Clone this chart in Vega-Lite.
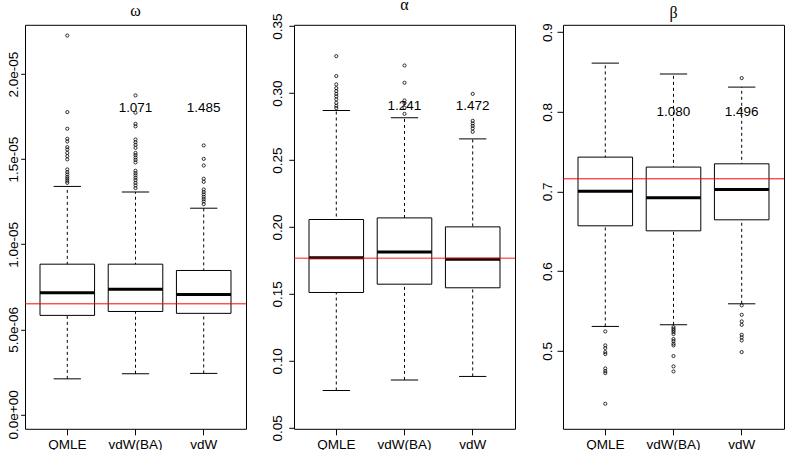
{
  "$schema": "https://vega.github.io/schema/vega-lite/v6.json",
  "background": "white",
  "padding": {"left": 5, "top": -4.2, "right": 0, "bottom": 0},
  "bounds": "flush",
  "spacing": 48,
  "datasets": {
    "boxes": [
      {"param": "omega", "method": "QMLE", "lower": 2.09e-6, "q1": 5.82e-6, "median": 7.15e-6, "q3": 8.83e-6, "upper": 13.40e-6},
      {"param": "omega", "method": "vdW(BA)", "lower": 2.39e-6, "q1": 6.05e-6, "median": 7.35e-6, "q3": 8.83e-6, "upper": 13.07e-6},
      {"param": "omega", "method": "vdW", "lower": 2.41e-6, "q1": 5.94e-6, "median": 7.05e-6, "q3": 8.46e-6, "upper": 12.12e-6},
      {"param": "alpha", "method": "QMLE", "lower": 0.0779, "q1": 0.1511, "median": 0.1770, "q3": 0.2056, "upper": 0.2870},
      {"param": "alpha", "method": "vdW(BA)", "lower": 0.0858, "q1": 0.1573, "median": 0.1814, "q3": 0.2068, "upper": 0.2815},
      {"param": "alpha", "method": "vdW", "lower": 0.0884, "q1": 0.1546, "median": 0.1760, "q3": 0.2001, "upper": 0.2658},
      {"param": "beta", "method": "QMLE", "lower": 0.5306, "q1": 0.6569, "median": 0.7004, "q3": 0.7431, "upper": 0.8611},
      {"param": "beta", "method": "vdW(BA)", "lower": 0.5326, "q1": 0.6506, "median": 0.6920, "q3": 0.7306, "upper": 0.8473},
      {"param": "beta", "method": "vdW", "lower": 0.5590, "q1": 0.6644, "median": 0.7026, "q3": 0.7347, "upper": 0.8310}
    ],
    "outliers": [
      {"param": "omega", "method": "QMLE", "value": 22.27e-6},
      {"param": "omega", "method": "QMLE", "value": 17.77e-6},
      {"param": "omega", "method": "QMLE", "value": 16.79e-6},
      {"param": "omega", "method": "QMLE", "value": 16.20e-6},
      {"param": "omega", "method": "QMLE", "value": 16.04e-6},
      {"param": "omega", "method": "QMLE", "value": 15.71e-6},
      {"param": "omega", "method": "QMLE", "value": 15.57e-6},
      {"param": "omega", "method": "QMLE", "value": 15.37e-6},
      {"param": "omega", "method": "QMLE", "value": 15.18e-6},
      {"param": "omega", "method": "QMLE", "value": 14.99e-6},
      {"param": "omega", "method": "QMLE", "value": 14.40e-6},
      {"param": "omega", "method": "QMLE", "value": 14.24e-6},
      {"param": "omega", "method": "QMLE", "value": 14.10e-6},
      {"param": "omega", "method": "QMLE", "value": 13.96e-6},
      {"param": "omega", "method": "QMLE", "value": 13.85e-6},
      {"param": "omega", "method": "QMLE", "value": 13.73e-6},
      {"param": "omega", "method": "QMLE", "value": 13.61e-6},
      {"param": "omega", "method": "vdW(BA)", "value": 18.75e-6},
      {"param": "omega", "method": "vdW(BA)", "value": 17.73e-6},
      {"param": "omega", "method": "vdW(BA)", "value": 17.08e-6},
      {"param": "omega", "method": "vdW(BA)", "value": 16.93e-6},
      {"param": "omega", "method": "vdW(BA)", "value": 16.16e-6},
      {"param": "omega", "method": "vdW(BA)", "value": 16.00e-6},
      {"param": "omega", "method": "vdW(BA)", "value": 15.84e-6},
      {"param": "omega", "method": "vdW(BA)", "value": 15.67e-6},
      {"param": "omega", "method": "vdW(BA)", "value": 15.37e-6},
      {"param": "omega", "method": "vdW(BA)", "value": 15.24e-6},
      {"param": "omega", "method": "vdW(BA)", "value": 15.10e-6},
      {"param": "omega", "method": "vdW(BA)", "value": 14.96e-6},
      {"param": "omega", "method": "vdW(BA)", "value": 14.81e-6},
      {"param": "omega", "method": "vdW(BA)", "value": 14.32e-6},
      {"param": "omega", "method": "vdW(BA)", "value": 14.18e-6},
      {"param": "omega", "method": "vdW(BA)", "value": 14.05e-6},
      {"param": "omega", "method": "vdW(BA)", "value": 13.91e-6},
      {"param": "omega", "method": "vdW(BA)", "value": 13.77e-6},
      {"param": "omega", "method": "vdW(BA)", "value": 13.61e-6},
      {"param": "omega", "method": "vdW(BA)", "value": 13.46e-6},
      {"param": "omega", "method": "vdW(BA)", "value": 13.30e-6},
      {"param": "omega", "method": "vdW", "value": 15.81e-6},
      {"param": "omega", "method": "vdW", "value": 15.02e-6},
      {"param": "omega", "method": "vdW", "value": 14.63e-6},
      {"param": "omega", "method": "vdW", "value": 13.85e-6},
      {"param": "omega", "method": "vdW", "value": 13.67e-6},
      {"param": "omega", "method": "vdW", "value": 13.22e-6},
      {"param": "omega", "method": "vdW", "value": 13.07e-6},
      {"param": "omega", "method": "vdW", "value": 12.93e-6},
      {"param": "omega", "method": "vdW", "value": 12.79e-6},
      {"param": "omega", "method": "vdW", "value": 12.65e-6},
      {"param": "omega", "method": "vdW", "value": 12.52e-6},
      {"param": "omega", "method": "vdW", "value": 12.36e-6},
      {"param": "alpha", "method": "QMLE", "value": 0.3276},
      {"param": "alpha", "method": "QMLE", "value": 0.3127},
      {"param": "alpha", "method": "QMLE", "value": 0.3065},
      {"param": "alpha", "method": "QMLE", "value": 0.3037},
      {"param": "alpha", "method": "QMLE", "value": 0.3015},
      {"param": "alpha", "method": "QMLE", "value": 0.2994},
      {"param": "alpha", "method": "QMLE", "value": 0.2975},
      {"param": "alpha", "method": "QMLE", "value": 0.2953},
      {"param": "alpha", "method": "QMLE", "value": 0.2927},
      {"param": "alpha", "method": "QMLE", "value": 0.2905},
      {"param": "alpha", "method": "QMLE", "value": 0.2888},
      {"param": "alpha", "method": "vdW(BA)", "value": 0.3206},
      {"param": "alpha", "method": "vdW(BA)", "value": 0.3077},
      {"param": "alpha", "method": "vdW(BA)", "value": 0.2945},
      {"param": "alpha", "method": "vdW(BA)", "value": 0.2925},
      {"param": "alpha", "method": "vdW(BA)", "value": 0.2890},
      {"param": "alpha", "method": "vdW(BA)", "value": 0.2845},
      {"param": "alpha", "method": "vdW", "value": 0.2994},
      {"param": "alpha", "method": "vdW", "value": 0.2793},
      {"param": "alpha", "method": "vdW", "value": 0.2773},
      {"param": "alpha", "method": "vdW", "value": 0.2755},
      {"param": "alpha", "method": "vdW", "value": 0.2736},
      {"param": "alpha", "method": "vdW", "value": 0.2711},
      {"param": "beta", "method": "QMLE", "value": 0.5243},
      {"param": "beta", "method": "QMLE", "value": 0.5068},
      {"param": "beta", "method": "QMLE", "value": 0.5034},
      {"param": "beta", "method": "QMLE", "value": 0.4984},
      {"param": "beta", "method": "QMLE", "value": 0.4959},
      {"param": "beta", "method": "QMLE", "value": 0.4779},
      {"param": "beta", "method": "QMLE", "value": 0.4745},
      {"param": "beta", "method": "QMLE", "value": 0.4720},
      {"param": "beta", "method": "QMLE", "value": 0.4335},
      {"param": "beta", "method": "vdW(BA)", "value": 0.5297},
      {"param": "beta", "method": "vdW(BA)", "value": 0.5276},
      {"param": "beta", "method": "vdW(BA)", "value": 0.5256},
      {"param": "beta", "method": "vdW(BA)", "value": 0.5235},
      {"param": "beta", "method": "vdW(BA)", "value": 0.5210},
      {"param": "beta", "method": "vdW(BA)", "value": 0.5147},
      {"param": "beta", "method": "vdW(BA)", "value": 0.5122},
      {"param": "beta", "method": "vdW(BA)", "value": 0.5088},
      {"param": "beta", "method": "vdW(BA)", "value": 0.5068},
      {"param": "beta", "method": "vdW(BA)", "value": 0.4934},
      {"param": "beta", "method": "vdW(BA)", "value": 0.4804},
      {"param": "beta", "method": "vdW(BA)", "value": 0.4741},
      {"param": "beta", "method": "vdW", "value": 0.8423},
      {"param": "beta", "method": "vdW", "value": 0.5570},
      {"param": "beta", "method": "vdW", "value": 0.5452},
      {"param": "beta", "method": "vdW", "value": 0.5369},
      {"param": "beta", "method": "vdW", "value": 0.5326},
      {"param": "beta", "method": "vdW", "value": 0.5201},
      {"param": "beta", "method": "vdW", "value": 0.5168},
      {"param": "beta", "method": "vdW", "value": 0.5130},
      {"param": "beta", "method": "vdW", "value": 0.4984}
    ],
    "truth": [
      {"param": "omega", "value": 6.50e-6},
      {"param": "alpha", "value": 0.1767},
      {"param": "beta", "value": 0.7159}
    ],
    "ratios": [
      {"param": "omega", "method": "vdW(BA)", "value": 1.8e-5, "label": "1.071"},
      {"param": "omega", "method": "vdW", "value": 1.8e-5, "label": "1.485"},
      {"param": "alpha", "method": "vdW(BA)", "value": 0.29, "label": "1.241"},
      {"param": "alpha", "method": "vdW", "value": 0.29, "label": "1.472"},
      {"param": "beta", "method": "vdW(BA)", "value": 0.8, "label": "1.080"},
      {"param": "beta", "method": "vdW", "value": 0.8, "label": "1.496"}
    ]
  },
  "hconcat": [
    {
      "width": 221,
      "height": 404,
      "title": {"text": "ω", "frame": "group", "offset": 6.0},
      "layer": [
        {
          "data": {"name": "boxes"},
          "transform": [{"filter": "datum.param == 'omega'"}],
          "mark": {"type": "rule", "color": "black", "strokeWidth": 1, "strokeDash": [3, 3]},
          "encoding": {
            "x": {"field": "method", "type": "nominal", "sort": ["QMLE", "vdW(BA)", "vdW"],
                  "scale": {"domain": ["QMLE", "vdW(BA)", "vdW"], "paddingInner": 0.2, "paddingOuter": 0.22}},
            "y": {"field": "lower", "type": "quantitative",
                  "scale": {"domain": [-8.46e-7, 2.29e-5], "nice": false, "zero": false},
                  "axis": {"values": [0, 5e-6, 1e-5, 1.5e-5, 2e-5],
                           "labelExpr": "replace(replace(format(datum.value, '.1e'), 'e-', 'e-0'), 'e+', 'e+0')",
                           "tickSize": 4.3, "labelPadding": 3.4}},
            "y2": {"field": "upper"}
          }
        },
        {
          "data": {"name": "boxes"},
          "transform": [{"filter": "datum.param == 'omega'"}],
          "mark": {"type": "tick", "orient": "horizontal", "size": 27.3, "thickness": 1, "color": "black", "opacity": 1},
          "encoding": {
            "x": {"field": "method", "type": "nominal", "sort": ["QMLE", "vdW(BA)", "vdW"]},
            "y": {"field": "lower", "type": "quantitative"}
          }
        },
        {
          "data": {"name": "boxes"},
          "transform": [{"filter": "datum.param == 'omega'"}],
          "mark": {"type": "tick", "orient": "horizontal", "size": 27.3, "thickness": 1, "color": "black", "opacity": 1},
          "encoding": {
            "x": {"field": "method", "type": "nominal", "sort": ["QMLE", "vdW(BA)", "vdW"]},
            "y": {"field": "upper", "type": "quantitative"}
          }
        },
        {
          "data": {"name": "boxes"},
          "transform": [{"filter": "datum.param == 'omega'"}],
          "mark": {"type": "bar", "fill": "white", "stroke": "black", "strokeWidth": 1},
          "encoding": {
            "x": {"field": "method", "type": "nominal", "sort": ["QMLE", "vdW(BA)", "vdW"]},
            "y": {"field": "q1", "type": "quantitative"},
            "y2": {"field": "q3"}
          }
        },
        {
          "data": {"name": "boxes"},
          "transform": [{"filter": "datum.param == 'omega'"}],
          "mark": {"type": "tick", "orient": "horizontal", "size": 54.6, "thickness": 3, "color": "black", "opacity": 1},
          "encoding": {
            "x": {"field": "method", "type": "nominal", "sort": ["QMLE", "vdW(BA)", "vdW"]},
            "y": {"field": "median", "type": "quantitative"}
          }
        },
        {
          "data": {"name": "outliers"},
          "transform": [{"filter": "datum.param == 'omega'"}],
          "mark": {"type": "point", "shape": "circle", "filled": false, "color": "black", "size": 10, "strokeWidth": 0.8, "opacity": 1},
          "encoding": {
            "x": {"field": "method", "type": "nominal", "sort": ["QMLE", "vdW(BA)", "vdW"]},
            "y": {"field": "value", "type": "quantitative"}
          }
        },
        {
          "data": {"name": "truth"},
          "transform": [{"filter": "datum.param == 'omega'"}],
          "mark": {"type": "rule", "color": "red", "strokeWidth": 1},
          "encoding": {
            "y": {"field": "value", "type": "quantitative"}
          }
        },
        {
          "data": {"name": "ratios"},
          "transform": [{"filter": "datum.param == 'omega'"}],
          "mark": {"type": "text", "fontSize": 13.5, "baseline": "middle", "color": "black"},
          "encoding": {
            "x": {"field": "method", "type": "nominal", "sort": ["QMLE", "vdW(BA)", "vdW"]},
            "y": {"field": "value", "type": "quantitative"},
            "text": {"field": "label"}
          }
        }
      ]
    },
    {
      "width": 221,
      "height": 404,
      "title": {"text": "α", "frame": "group", "offset": 0.0},
      "layer": [
        {
          "data": {"name": "boxes"},
          "transform": [{"filter": "datum.param == 'alpha'"}],
          "mark": {"type": "rule", "color": "black", "strokeWidth": 1, "strokeDash": [3, 3]},
          "encoding": {
            "x": {"field": "method", "type": "nominal", "sort": ["QMLE", "vdW(BA)", "vdW"],
                  "scale": {"domain": ["QMLE", "vdW(BA)", "vdW"], "paddingInner": 0.2, "paddingOuter": 0.22}},
            "y": {"field": "lower", "type": "quantitative",
                  "scale": {"domain": [0.0493, 0.351], "nice": false, "zero": false},
                  "axis": {"values": [0.05, 0.1, 0.15, 0.2, 0.25, 0.3, 0.35], "format": ".2f",
                           "tickSize": 5.2, "labelPadding": 7.6}},
            "y2": {"field": "upper"}
          }
        },
        {
          "data": {"name": "boxes"},
          "transform": [{"filter": "datum.param == 'alpha'"}],
          "mark": {"type": "tick", "orient": "horizontal", "size": 27.3, "thickness": 1, "color": "black", "opacity": 1},
          "encoding": {
            "x": {"field": "method", "type": "nominal", "sort": ["QMLE", "vdW(BA)", "vdW"]},
            "y": {"field": "lower", "type": "quantitative"}
          }
        },
        {
          "data": {"name": "boxes"},
          "transform": [{"filter": "datum.param == 'alpha'"}],
          "mark": {"type": "tick", "orient": "horizontal", "size": 27.3, "thickness": 1, "color": "black", "opacity": 1},
          "encoding": {
            "x": {"field": "method", "type": "nominal", "sort": ["QMLE", "vdW(BA)", "vdW"]},
            "y": {"field": "upper", "type": "quantitative"}
          }
        },
        {
          "data": {"name": "boxes"},
          "transform": [{"filter": "datum.param == 'alpha'"}],
          "mark": {"type": "bar", "fill": "white", "stroke": "black", "strokeWidth": 1},
          "encoding": {
            "x": {"field": "method", "type": "nominal", "sort": ["QMLE", "vdW(BA)", "vdW"]},
            "y": {"field": "q1", "type": "quantitative"},
            "y2": {"field": "q3"}
          }
        },
        {
          "data": {"name": "boxes"},
          "transform": [{"filter": "datum.param == 'alpha'"}],
          "mark": {"type": "tick", "orient": "horizontal", "size": 54.6, "thickness": 3, "color": "black", "opacity": 1},
          "encoding": {
            "x": {"field": "method", "type": "nominal", "sort": ["QMLE", "vdW(BA)", "vdW"]},
            "y": {"field": "median", "type": "quantitative"}
          }
        },
        {
          "data": {"name": "outliers"},
          "transform": [{"filter": "datum.param == 'alpha'"}],
          "mark": {"type": "point", "shape": "circle", "filled": false, "color": "black", "size": 10, "strokeWidth": 0.8, "opacity": 1},
          "encoding": {
            "x": {"field": "method", "type": "nominal", "sort": ["QMLE", "vdW(BA)", "vdW"]},
            "y": {"field": "value", "type": "quantitative"}
          }
        },
        {
          "data": {"name": "truth"},
          "transform": [{"filter": "datum.param == 'alpha'"}],
          "mark": {"type": "rule", "color": "red", "strokeWidth": 1.5, "opacity": 0.6},
          "encoding": {
            "y": {"field": "value", "type": "quantitative"}
          }
        },
        {
          "data": {"name": "ratios"},
          "transform": [{"filter": "datum.param == 'alpha'"}],
          "mark": {"type": "text", "fontSize": 13.5, "baseline": "middle", "color": "black"},
          "encoding": {
            "x": {"field": "method", "type": "nominal", "sort": ["QMLE", "vdW(BA)", "vdW"]},
            "y": {"field": "value", "type": "quantitative"},
            "text": {"field": "label"}
          }
        }
      ]
    },
    {
      "width": 221,
      "height": 404,
      "title": {"text": "β", "frame": "group", "offset": 1.6},
      "layer": [
        {
          "data": {"name": "boxes"},
          "transform": [{"filter": "datum.param == 'beta'"}],
          "mark": {"type": "rule", "color": "black", "strokeWidth": 1, "strokeDash": [3, 3]},
          "encoding": {
            "x": {"field": "method", "type": "nominal", "sort": ["QMLE", "vdW(BA)", "vdW"],
                  "scale": {"domain": ["QMLE", "vdW(BA)", "vdW"], "paddingInner": 0.2, "paddingOuter": 0.22}},
            "y": {"field": "lower", "type": "quantitative",
                  "scale": {"domain": [0.4021, 0.9092], "nice": false, "zero": false},
                  "axis": {"values": [0.5, 0.6, 0.7, 0.8, 0.9], "format": ".1f",
                           "tickSize": 6, "labelPadding": 5}},
            "y2": {"field": "upper"}
          }
        },
        {
          "data": {"name": "boxes"},
          "transform": [{"filter": "datum.param == 'beta'"}],
          "mark": {"type": "tick", "orient": "horizontal", "size": 27.3, "thickness": 1, "color": "black", "opacity": 1},
          "encoding": {
            "x": {"field": "method", "type": "nominal", "sort": ["QMLE", "vdW(BA)", "vdW"]},
            "y": {"field": "lower", "type": "quantitative"}
          }
        },
        {
          "data": {"name": "boxes"},
          "transform": [{"filter": "datum.param == 'beta'"}],
          "mark": {"type": "tick", "orient": "horizontal", "size": 27.3, "thickness": 1, "color": "black", "opacity": 1},
          "encoding": {
            "x": {"field": "method", "type": "nominal", "sort": ["QMLE", "vdW(BA)", "vdW"]},
            "y": {"field": "upper", "type": "quantitative"}
          }
        },
        {
          "data": {"name": "boxes"},
          "transform": [{"filter": "datum.param == 'beta'"}],
          "mark": {"type": "bar", "fill": "white", "stroke": "black", "strokeWidth": 1},
          "encoding": {
            "x": {"field": "method", "type": "nominal", "sort": ["QMLE", "vdW(BA)", "vdW"]},
            "y": {"field": "q1", "type": "quantitative"},
            "y2": {"field": "q3"}
          }
        },
        {
          "data": {"name": "boxes"},
          "transform": [{"filter": "datum.param == 'beta'"}],
          "mark": {"type": "tick", "orient": "horizontal", "size": 54.6, "thickness": 3, "color": "black", "opacity": 1},
          "encoding": {
            "x": {"field": "method", "type": "nominal", "sort": ["QMLE", "vdW(BA)", "vdW"]},
            "y": {"field": "median", "type": "quantitative"}
          }
        },
        {
          "data": {"name": "outliers"},
          "transform": [{"filter": "datum.param == 'beta'"}],
          "mark": {"type": "point", "shape": "circle", "filled": false, "color": "black", "size": 10, "strokeWidth": 0.8, "opacity": 1},
          "encoding": {
            "x": {"field": "method", "type": "nominal", "sort": ["QMLE", "vdW(BA)", "vdW"]},
            "y": {"field": "value", "type": "quantitative"}
          }
        },
        {
          "data": {"name": "truth"},
          "transform": [{"filter": "datum.param == 'beta'"}],
          "mark": {"type": "rule", "color": "red", "strokeWidth": 1},
          "encoding": {
            "y": {"field": "value", "type": "quantitative"}
          }
        },
        {
          "data": {"name": "ratios"},
          "transform": [{"filter": "datum.param == 'beta'"}],
          "mark": {"type": "text", "fontSize": 13.5, "baseline": "middle", "color": "black"},
          "encoding": {
            "x": {"field": "method", "type": "nominal", "sort": ["QMLE", "vdW(BA)", "vdW"]},
            "y": {"field": "value", "type": "quantitative"},
            "text": {"field": "label"}
          }
        }
      ]
    }
  ],
  "config": {
    "font": "Liberation Sans",
    "view": {"stroke": "black", "strokeWidth": 1},
    "title": {"font": "Liberation Serif", "fontSize": 16, "fontWeight": "normal", "color": "black",
              "anchor": "middle", "baseline": "alphabetic"},
    "axis": {"grid": false, "domain": false, "title": null, "tickColor": "black", "tickWidth": 1,
             "labelColor": "black", "labelFont": "Liberation Sans", "labelFontSize": 13.5,
             "labelFlush": false, "labelOverlap": false},
    "axisX": {"labelAngle": 0, "tickSize": 6, "labelPadding": 3, "labelBaseline": "top"},
    "axisY": {"labelAngle": -90, "labelAlign": "center", "labelBaseline": "alphabetic"}
  }
}
